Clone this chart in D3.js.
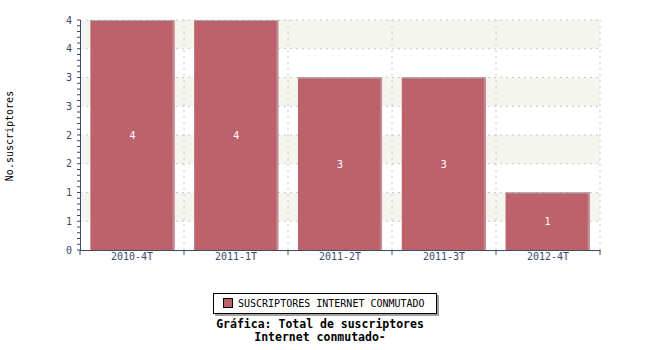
<!DOCTYPE html>
<html>
<head>
<meta charset="utf-8">
<script src="https://cdn.jsdelivr.net/npm/d3@7"></script>
<style>
  body { margin: 0; background: #fff; }
  text { font-family: "DejaVu Sans Mono", monospace; }
</style>
</head>
<body>
<svg width="650" height="350"></svg>
<script>
const categories = ["2010-4T", "2011-1T", "2011-2T", "2011-3T", "2012-4T"];
const values = [4, 4, 3, 3, 1];
const yTicks = [0, 0.5, 1, 1.5, 2, 2.5, 3, 3.5, 4];
const seriesName = "SUSCRIPTORES INTERNET CONMUTADO";
const titleLines = ["Gráfica: Total de suscriptores", "Internet conmutado-"];
const yLabel = "No.suscriptores";

const svg = d3.select("svg"),
  plotLeft = 80, plotRight = 600, plotTop = 20, plotBottom = 250,
  axisColor = "#3d4a6e",
  barColor = "#bd616a";

const x = d3.scaleBand().domain(categories).range([plotLeft, plotRight]).paddingInner(0.19).paddingOuter(0.1);
const xBand = d3.scaleBand().domain(categories).range([plotLeft, plotRight]);
const y = d3.scaleLinear().domain([0, 4]).range([plotBottom, plotTop]);

// alternating background bands
const bands = yTicks.slice(1).filter((d, i) => i % 2 === 0);
svg.append("g").selectAll("rect")
  .data(bands)
  .enter()
  .append("rect")
  .attr("x", plotLeft)
  .attr("y", d => y(d + 0.5))
  .attr("width", plotRight - plotLeft)
  .attr("height", d => y(d) - y(d + 0.5))
  .attr("fill", "#f5f5f0");

// grid
svg.append("g").selectAll("line")
  .data(yTicks.slice(1))
  .enter()
  .append("line")
  .attr("x1", plotLeft).attr("x2", plotRight)
  .attr("y1", d => y(d)).attr("y2", d => y(d))
  .attr("stroke", "#c8c8c8")
  .attr("stroke-dasharray", "2,4");

svg.append("g").selectAll("line")
  .data(categories)
  .enter()
  .append("line")
  .attr("x1", d => xBand(d) + xBand.bandwidth()).attr("x2", d => xBand(d) + xBand.bandwidth())
  .attr("y1", plotTop).attr("y2", plotBottom)
  .attr("stroke", "#c8c8c8")
  .attr("stroke-dasharray", "2,4");

// bars
const bars = svg.append("g").selectAll("g")
  .data(values)
  .enter()
  .append("g");

bars.append("rect")
  .attr("x", (d, i) => x(categories[i]))
  .attr("y", d => y(d))
  .attr("width", x.bandwidth())
  .attr("height", d => plotBottom - y(d))
  .attr("fill", barColor);

bars.append("rect")
  .attr("x", (d, i) => x(categories[i]) + x.bandwidth() - 2)
  .attr("y", d => y(d))
  .attr("width", 2)
  .attr("height", d => plotBottom - y(d))
  .attr("fill", "#c48a90");

bars.append("line")
  .attr("x1", (d, i) => x(categories[i]))
  .attr("x2", (d, i) => x(categories[i]) + x.bandwidth())
  .attr("y1", d => y(d) + 0.5)
  .attr("y2", d => y(d) + 0.5)
  .attr("stroke", "#a8a8a8");

bars.append("text")
  .attr("x", (d, i) => x(categories[i]) + x.bandwidth() / 2)
  .attr("y", d => (y(d) + plotBottom) / 2 + 4)
  .attr("text-anchor", "middle")
  .attr("font-size", "10px")
  .attr("fill", "#fff")
  .text(d => d);

// y axis
const yAxis = svg.append("g")
  .attr("transform", `translate(${plotLeft},0)`)
  .call(d3.axisLeft(y).tickValues(yTicks).tickSize(5).tickSizeOuter(0).tickPadding(3)
    .tickFormat(d => Math.round(d)));
yAxis.append("g").selectAll("line")
  .data(d3.range(0, 41).map(d => d / 10))
  .enter()
  .append("line")
  .attr("x1", -3).attr("x2", 0)
  .attr("y1", d => y(d)).attr("y2", d => y(d))
  .attr("stroke", axisColor);
yAxis.selectAll(".tick line").attr("x2", 1);

// x axis
const xAxis = svg.append("g")
  .attr("transform", `translate(0,${plotBottom})`)
  .call(d3.axisBottom(xBand).tickSize(0).tickSizeOuter(0).tickPadding(3));
xAxis.append("g").selectAll("line")
  .data([plotLeft].concat(categories.map(c => xBand(c) + xBand.bandwidth())))
  .enter()
  .append("line")
  .attr("x1", d => d).attr("x2", d => d)
  .attr("y1", 0).attr("y2", 5)
  .attr("stroke", axisColor);

svg.selectAll(".domain").attr("stroke", axisColor);
svg.selectAll(".tick line").attr("stroke", axisColor);
svg.selectAll(".tick text")
  .attr("fill", axisColor)
  .attr("font-size", "10px")
  .attr("font-family", "DejaVu Sans Mono, monospace");

// y label
svg.append("text")
  .attr("transform", "translate(13,136) rotate(-90)")
  .attr("text-anchor", "middle")
  .attr("font-size", "10px")
  .attr("fill", "#000")
  .text(yLabel);

// legend
const lg = svg.append("g").attr("transform", "translate(213,293)");
lg.append("rect").attr("x", 2).attr("y", 2).attr("width", 224).attr("height", 21).attr("fill", "#a0a0a0");
lg.append("rect").attr("x", 0.5).attr("y", 0.5).attr("width", 223).attr("height", 20)
  .attr("fill", "#fff").attr("stroke", "#000");
lg.append("rect").attr("x", 10.5).attr("y", 5.5).attr("width", 9).attr("height", 9)
  .attr("fill", barColor).attr("stroke", "#000");
lg.append("text").attr("x", 25).attr("y", 14).attr("font-size", "10px").attr("fill", "#000").text(seriesName);

// title
svg.append("g").selectAll("text")
  .data(titleLines)
  .enter()
  .append("text")
  .attr("x", 320)
  .attr("y", (d, i) => 328 + i * 13)
  .attr("text-anchor", "middle")
  .attr("font-size", "11.5px")
  .attr("font-weight", "bold")
  .attr("fill", "#000")
  .text(d => d);
</script>
</body>
</html>
